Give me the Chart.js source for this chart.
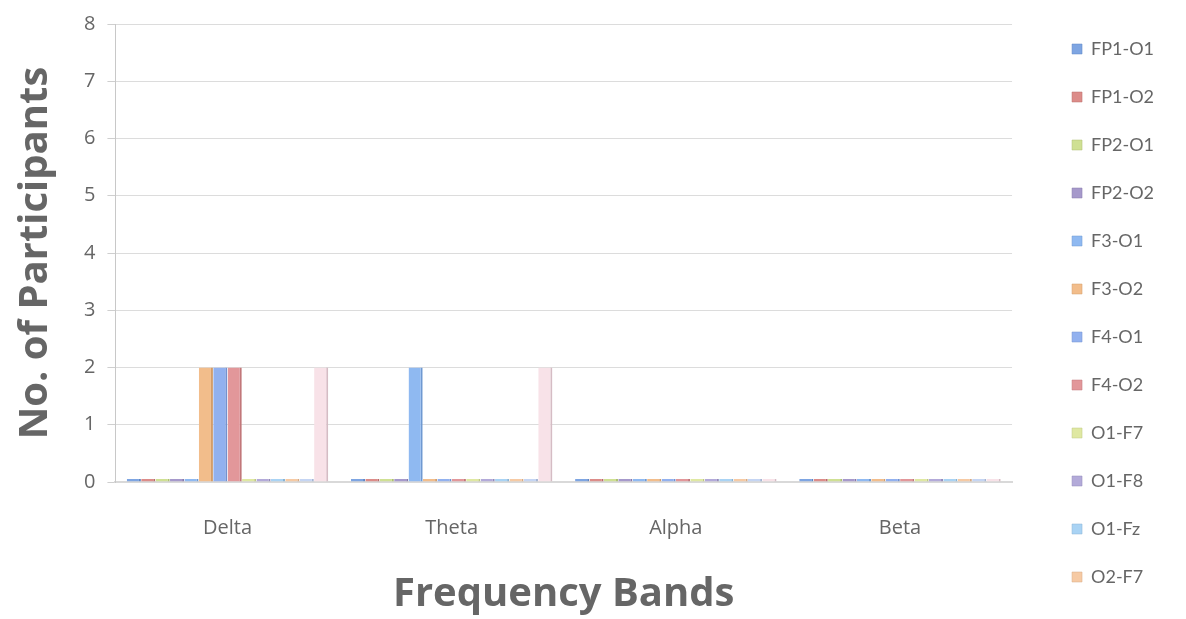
<!DOCTYPE html>
<html>
<head>
<meta charset="utf-8">
<title>No. of Participants by Frequency Band</title>
<script src="https://cdn.jsdelivr.net/npm/chart.js@4.4.1/dist/chart.umd.min.js"></script>
<style>
  html, body { margin: 0; padding: 0; background: #fff; }
  #wrap { width: 1186px; height: 619px; position: relative; }
</style>
</head>
<body>
<div id="wrap"><canvas id="myChart"></canvas></div>
<script>
// Frequency bands on the x axis
const bands = ['Delta', 'Theta', 'Alpha', 'Beta'];

// Electrode pairs (one series each)
const pairs = ['FP1-O1', 'FP1-O2', 'FP2-O1', 'FP2-O2', 'F3-O1', 'F3-O2',
               'F4-O1', 'F4-O2', 'O1-F7', 'O1-F8', 'O1-Fz', 'O2-F7', 'O2-F8', 'O2-Fz'];

// Participant counts per pair, ordered Delta, Theta, Alpha, Beta
const fp1o1 = [0, 0, 0, 0];
const fp1o2 = [0, 0, 0, 0];
const fp2o1 = [0, 0, 0, 0];
const fp2o2 = [0, 0, 0, 0];
const f3o1  = [0, 2, 0, 0];
const f3o2  = [2, 0, 0, 0];
const f4o1  = [2, 0, 0, 0];
const f4o2  = [2, 0, 0, 0];
const o1f7  = [0, 0, 0, 0];
const o1f8  = [0, 0, 0, 0];
const o1fz  = [0, 0, 0, 0];
const o2f7  = [0, 0, 0, 0];
const o2f8  = [0, 0, 0, 0];
const o2fz  = [2, 2, 0, 0];

const seriesValues = [fp1o1, fp1o2, fp2o1, fp2o2, f3o1, f3o2, f4o1, f4o2, o1f7, o1f8, o1fz, o2f7, o2f8, o2fz];

// Only the first twelve pairs fit in the legend column
const legendCount = 12;

const fills = ['#7ea5e2', '#dc8c89', '#cfe093', '#a699cb', '#8fb9f1', '#f2bd8b',
               '#92b1ef', '#e2979a', '#dfe8a2', '#b3aad9', '#a9d3f4', '#f6caa4',
               '#c5d5f3', '#f8e2e8'];
const sides = ['#5f86c4', '#b86c69', '#aebf73', '#8679ab', '#6f99d1', '#d29d6b',
               '#7291cf', '#c2777a', '#bfc882', '#938ab9', '#89b3d4', '#d6aa84',
               '#a5b5d3', '#d5bcc4'];

const gray = '#666666';

const ctx = document.getElementById('myChart').getContext('2d');
const chart = new Chart(ctx, {
    type: 'bar',
    data: {
        labels: bands,
        datasets: pairs.map((name, i) => ({
            label: name,
            data: seriesValues[i],
            backgroundColor: fills[i],
            borderColor: sides[i],
            borderWidth: { right: 2, top: 0, left: 0, bottom: 0 },
            borderSkipped: false,
            minBarLength: 3,
            categoryPercentage: 0.9,
            barPercentage: 0.98
        }))
    },
    options: {
        responsive: true,
        maintainAspectRatio: false,
        animation: false,
        layout: { padding: { top: 7, left: 12, right: 22, bottom: 0 } },
        plugins: {
            tooltip: { enabled: false },
            legend: {
                position: 'right',
                labels: {
                    boxWidth: 10,
                    boxHeight: 10,
                    padding: 30,
                    color: gray,
                    font: { family: 'Lato', size: 18 },
                    filter: item => item.datasetIndex < legendCount
                }
            }
        },
        scales: {
            x: {
                grid: { display: false },
                border: { display: true, color: '#d9d9d9', width: 2 },
                ticks: {
                    color: gray,
                    padding: 26,
                    font: { family: 'Open Sans', size: 20 }
                },
                title: {
                    display: true,
                    text: 'Frequency Bands',
                    color: gray,
                    padding: { top: 5, bottom: 0 },
                    font: { family: 'Open Sans', size: 40, weight: 'bold' }
                }
            },
            y: {
                min: 0,
                max: 8,
                ticks: {
                    stepSize: 1,
                    color: gray,
                    padding: 12,
                    font: { family: 'Open Sans', size: 20 }
                },
                grid: { color: '#dcdcdc', tickLength: 8, tickColor: '#cfcfcf' },
                border: { display: true, color: '#c8c8c8' },
                title: {
                    display: true,
                    text: 'No. of Participants',
                    color: gray,
                    padding: { top: 0, bottom: 12 },
                    font: { family: 'Open Sans', size: 40, weight: 'bold' }
                }
            },
            // empty axis that keeps a gap between the plot and the legend
            gap: {
                position: 'right',
                display: true,
                grid: { display: false },
                border: { display: false },
                ticks: { display: false },
                afterFit: scale => { scale.width = 30; }
            }
        }
    }
});
</script>
</body>
</html>
